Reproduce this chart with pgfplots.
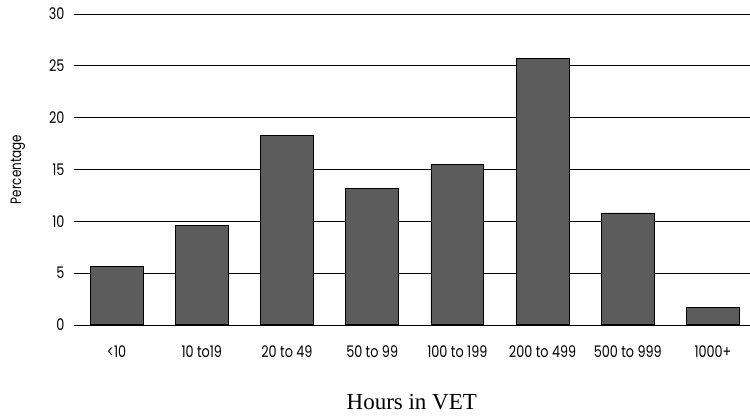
\documentclass[border=0pt]{standalone}
\usepackage{fontspec}
\usepackage{pgfplots}
\pgfplotsset{compat=1.18}
\setmainfont{Liberation Serif}
\newfontfamily\geo[FakeStretch=0.8]{Poppins}
\definecolor{barfill}{RGB}{92,92,92}

\pgfplotstableread{
idx value
0 5.6
1 9.55
2 18.3
3 13.15
4 15.5
5 25.7
6 10.8
7 1.7
}\hoursdata

\begin{document}
\begin{tikzpicture}
\begin{axis}[
  scale only axis,
  width=676bp, height=311bp,
  xmin=-0.5, xmax=7.43,
  ymin=0, ymax=30,
  ytick={0,5,...,30},
  xtick={0,...,7},
  xticklabels={<10,10 to19,20 to 49,50 to 99,100 to 199,200 to 499,500 to 999,1000+},
  axis line style={draw=none},
  major tick length=0pt,
  ymajorgrids,
  grid style={black, line width=0.7pt},
  /pgf/number format/assume math mode=true,
  tick label style={font=\geo\fontsize{16bp}{18bp}\selectfont},
  yticklabel style={xshift=-6bp},
  xticklabel style={yshift=-17bp},
  ylabel={Percentage},
  ylabel style={font=\geo\fontsize{15bp}{18bp}\selectfont,
    at={(axis description cs:-0.083,0.5)}, anchor=center},
  xlabel={Hours in VET},
  xlabel style={font=\fontsize{23bp}{27bp}\selectfont, yshift=-30bp},
  clip=false,
]
\addplot[ybar, bar width=53bp, fill=barfill, draw=black, line width=0.8pt]
  table[x=idx, y=value]{\hoursdata};
\end{axis}
\path[use as bounding box] (current axis.south west) ++(-74bp,-95bp) rectangle ++(750bp,420bp);
\end{tikzpicture}
\end{document}
